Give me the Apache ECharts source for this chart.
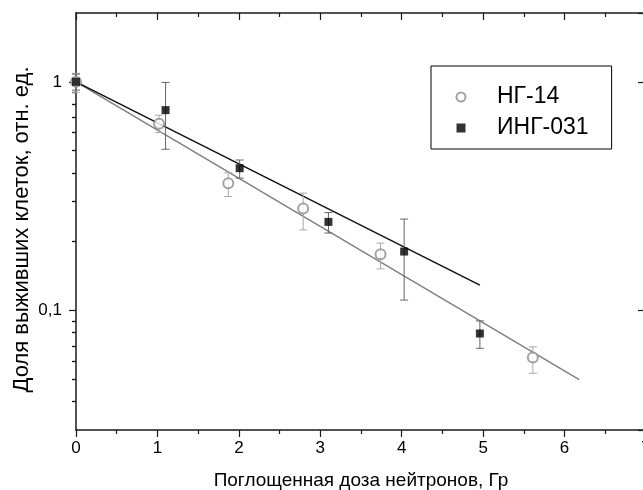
<!DOCTYPE html>
<html>
<head>
<meta charset="utf-8">
<script src="https://cdn.jsdelivr.net/npm/echarts@6/dist/echarts.min.js"></script>
<style>
  html, body { margin: 0; padding: 0; background: #fff; }
  #chart { width: 643px; height: 490px; }
</style>
</head>
<body>
<div id="chart"></div>
<script>
// НГ-14 (открытые кружки)
const ng14X = [0, 1.02, 1.87, 2.79, 3.74, 5.61];
const ng14Y = [1, 0.655, 0.36, 0.279, 0.176, 0.0623];
const ng14Lo = [0.90, 0.60, 0.315, 0.225, 0.152, 0.0531];
const ng14Hi = [1.09, 0.715, 0.40, 0.326, 0.197, 0.0693];
// ИНГ-031 (чёрные квадраты)
const ingX = [0, 1.10, 2.01, 3.10, 4.03, 4.96];
const ingY = [1, 0.752, 0.419, 0.244, 0.181, 0.0793];
const ingLo = [0.92, 0.507, 0.379, 0.218, 0.111, 0.0683];
const ingHi = [1.08, 0.994, 0.455, 0.268, 0.251, 0.090];
// линии аппроксимации (концы)
const ng14FitX = [0, 6.18];
const ng14FitY = [1, 0.0498];
const ingFitX = [0, 4.96];
const ingFitY = [1, 0.129];
// шкалы
const yMin = 0.03, yMax = 2;
const yMinorTicks = [0.04, 0.05, 0.06, 0.07, 0.08, 0.09, 0.2, 0.3, 0.4, 0.5, 0.6, 0.7, 0.8, 0.9];

const font = "'Liberation Sans', Arial, sans-serif";
const axisColor = '#1a1a1a';

const zip = (xs, ys) => xs.map((x, i) => [x, ys[i]]);
const zip3 = (xs, a, b) => xs.map((x, i) => [x, a[i], b[i]]);

function errorBar(color) {
	return function (params, api) {
		const x = api.value(0);
		const lo = api.coord([x, api.value(1)]);
		const hi = api.coord([x, api.value(2)]);
		const hw = 4;
		const style = { stroke: color, lineWidth: 1 };
		return {
			type: 'group',
			children: [
				{ type: 'line', shape: { x1: lo[0], y1: lo[1], x2: hi[0], y2: hi[1] }, style: style },
				{ type: 'line', shape: { x1: lo[0] - hw, y1: lo[1], x2: lo[0] + hw, y2: lo[1] }, style: style },
				{ type: 'line', shape: { x1: hi[0] - hw, y1: hi[1], x2: hi[0] + hw, y2: hi[1] }, style: style },
			],
		};
	};
}

const lg = Math.log10;
const chart = echarts.init(document.getElementById('chart'));

const minorAxis = (pos) => ({
	type: 'value',
	position: pos,
	min: lg(yMin),
	max: lg(yMax),
	axisLine: { show: false },
	axisLabel: { show: false },
	splitLine: { show: false },
	axisTick: {
		show: true,
		inside: pos === 'right',
		length: 4,
		customValues: yMinorTicks.map(lg),
		lineStyle: { color: axisColor, width: 1.2 },
	},
});

let option = {
	animation: false,
	grid: { left: 76, top: 13, width: 570, height: 417, outerBoundsMode: 'none', containLabel: false },
	legend: {
		orient: 'vertical',
		left: 431,
		top: 66,
		padding: [19.5, 23, 9.5, 24.5],
		borderColor: '#000',
		borderWidth: 1,
		itemWidth: 9,
		itemHeight: 9,
		itemGap: 8,
		data: ['НГ-14', 'ИНГ-031'],
		formatter: (name) => '{t|' + name + '}',
		textStyle: {
			rich: {
				t: { fontFamily: font, fontSize: 23, color: '#000', lineHeight: 26, padding: [0, 0, 0, 26.5] },
			},
		},
	},
	xAxis: [
		{
			type: 'value',
			position: 'bottom',
			min: 0,
			max: 7,
			interval: 1,
			name: 'Поглощенная доза нейтронов, Гр',
			nameLocation: 'middle',
			nameGap: 41,
			nameTextStyle: { fontFamily: font, fontSize: 19, color: '#000' },
			axisLine: { onZero: false, lineStyle: { color: axisColor, width: 1.5 } },
			axisTick: { length: 7, lineStyle: { color: axisColor, width: 1.2 } },
			minorTick: { show: true, splitNumber: 2, length: 4, lineStyle: { color: axisColor, width: 1.2 } },
			axisLabel: { fontFamily: font, fontSize: 17, color: '#000', margin: 10 },
			splitLine: { show: false },
		},
		{
			type: 'value',
			position: 'top',
			min: 0,
			max: 7,
			interval: 1,
			axisLine: { onZero: false, lineStyle: { color: axisColor, width: 1.5 } },
			axisTick: { inside: true, length: 7, lineStyle: { color: axisColor, width: 1.2 } },
			minorTick: { show: true, splitNumber: 2, length: 4, lineStyle: { color: axisColor, width: 1.2 } },
			axisLabel: { show: false },
			splitLine: { show: false },
		},
	],
	yAxis: [
		{
			type: 'log',
			logBase: 10,
			position: 'left',
			min: yMin,
			max: yMax,
			name: 'Доля выживших клеток, отн. ед.',
			nameLocation: 'middle',
			nameGap: 43,
			nameMoveOverlap: false,
			nameTextStyle: { fontFamily: font, fontSize: 22, color: '#000', padding: [0, 16, 0, 0] },
			axisLine: { show: true, onZero: false, lineStyle: { color: axisColor, width: 1.5 } },
			axisTick: { show: true, length: 7, lineStyle: { color: axisColor, width: 1.2 } },
			axisLabel: {
				fontFamily: font, fontSize: 17, color: '#000', margin: 14,
				showMinLabel: false, showMaxLabel: false,
				formatter: (v) => String(v).replace('.', ','),
			},
			splitLine: { show: false },
		},
		minorAxis('left'),
		{
			type: 'log',
			logBase: 10,
			position: 'right',
			min: yMin,
			max: yMax,
			axisLine: { show: true, onZero: false, lineStyle: { color: axisColor, width: 1.5 } },
			axisTick: { show: true, inside: true, length: 8, lineStyle: { color: axisColor, width: 1.2 } },
			axisLabel: { show: false },
			splitLine: { show: false },
		},
		minorAxis('right'),
	],
	series: [
		{
			name: 'fit НГ-14',
			type: 'line',
			data: zip(ng14FitX, ng14FitY),
			showSymbol: false,
			lineStyle: { color: '#808080', width: 1.5 },
			z: 2,
		},
		{
			name: 'fit ИНГ-031',
			type: 'line',
			data: zip(ingFitX, ingFitY),
			showSymbol: false,
			lineStyle: { color: '#111', width: 1.5 },
			z: 2,
		},
		{
			type: 'custom',
			renderItem: errorBar('#aaaaaa'),
			data: zip3(ng14X, ng14Lo, ng14Hi),
			encode: { x: 0, y: [1, 2] },
			z: 3,
		},
		{
			type: 'custom',
			renderItem: errorBar('#666666'),
			data: zip3(ingX, ingLo, ingHi),
			encode: { x: 0, y: [1, 2] },
			z: 3,
		},
		{
			name: 'НГ-14',
			type: 'scatter',
			symbol: 'emptyCircle',
			symbolSize: 10,
			data: zip(ng14X, ng14Y),
			itemStyle: { color: '#8c8c8c', borderColor: '#8c8c8c', borderWidth: 1.3 },
			z: 4,
		},
		{
			name: 'ИНГ-031',
			type: 'scatter',
			symbol: 'rect',
			symbolSize: 8,
			data: zip(ingX, ingY),
			itemStyle: { color: '#000' },
			z: 5,
		},
	],
};
chart.setOption(option);
</script>
</body>
</html>
